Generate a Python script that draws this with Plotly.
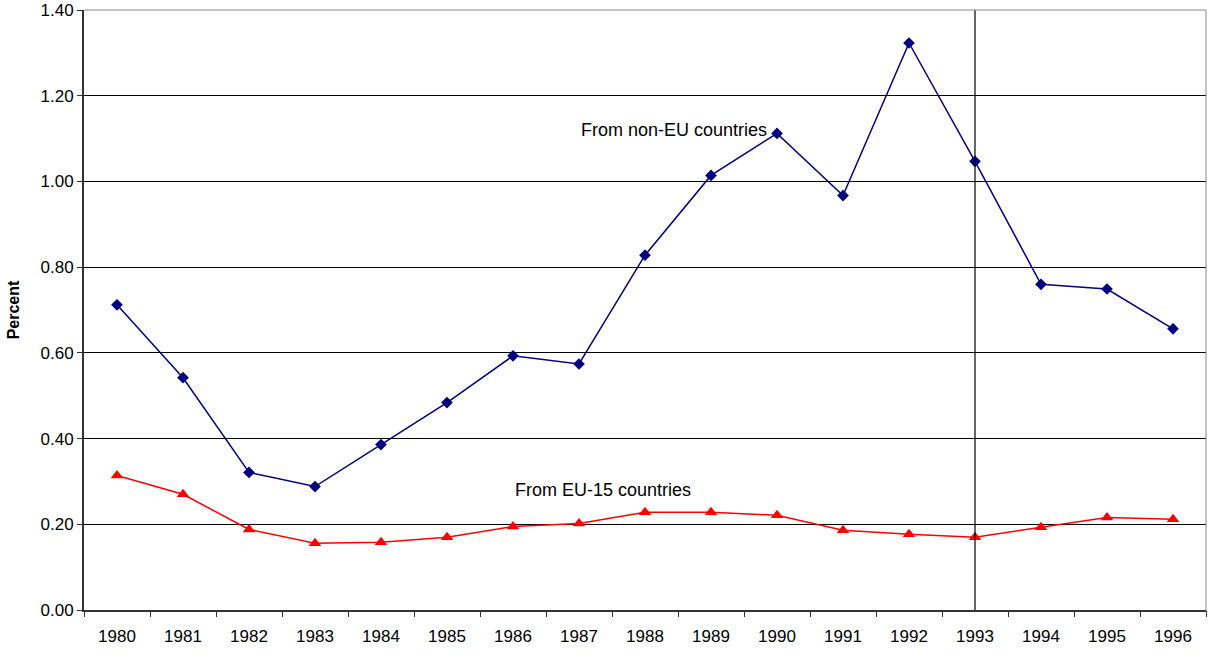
import plotly.graph_objects as go

years = [str(y) for y in range(1980, 1997)]
non_eu = [0.712, 0.542, 0.321, 0.288, 0.386, 0.484, 0.593, 0.574, 0.828, 1.014,
          1.112, 0.967, 1.323, 1.047, 0.760, 0.749, 0.656]
eu15 = [0.314, 0.270, 0.188, 0.156, 0.158, 0.170, 0.195, 0.202, 0.228, 0.228,
        0.221, 0.186, 0.177, 0.170, 0.193, 0.216, 0.212]
y_ticks = [0.0, 0.2, 0.4, 0.6, 0.8, 1.0, 1.2, 1.4]
y_labels = ["%.2f" % v for v in y_ticks]
marker_year = "1993"
xi = list(range(len(years)))

FONT = "Arial"

fig = go.Figure()
fig.add_trace(go.Scatter(
    x=xi, y=non_eu, mode="lines+markers", name="From non-EU countries",
    line=dict(color="#000080", width=1.5),
    marker=dict(symbol="diamond", size=9, color="#000080"),
))
fig.add_trace(go.Scatter(
    x=xi, y=eu15, mode="lines+markers", name="From EU-15 countries",
    line=dict(color="#FF0000", width=1.5),
    marker=dict(symbol="triangle-up", size=11, color="#FF0000"),
))

vx = years.index(marker_year)
fig.add_shape(type="line", xref="x", yref="y", x0=vx, x1=vx,
              y0=0, y1=1.4, line=dict(color="#000000", width=1.2))
fig.add_shape(type="line", xref="paper", yref="paper", x0=0, x1=1, y0=1, y1=1,
              line=dict(color="#888888", width=1))
fig.add_shape(type="line", xref="paper", yref="paper", x0=1, x1=1, y0=0, y1=1,
              line=dict(color="#888888", width=1))

fig.add_annotation(x=7, y=1.119, text="From non-EU countries", showarrow=False,
                   xanchor="left", yanchor="middle",
                   font=dict(size=18, color="#000000", family=FONT))
fig.add_annotation(x=6, y=0.281, text="From EU-15 countries", showarrow=False,
                   xanchor="left", yanchor="middle",
                   font=dict(size=18, color="#000000", family=FONT))

fig.update_layout(
    width=1210, height=655,
    margin=dict(l=84, r=4, t=10, b=45),
    paper_bgcolor="white", plot_bgcolor="white",
    showlegend=False,
    font=dict(family=FONT, size=17, color="#000000"),
    xaxis=dict(range=[-0.5, 16.5], tickvals=xi, ticktext=years,
               ticks="", showline=True, linecolor="#333333", linewidth=2,
               showgrid=False, zeroline=False, ticklabelstandoff=10,
               tickfont=dict(size=17, family=FONT)),
    yaxis=dict(range=[0, 1.40001], tickvals=y_ticks, ticktext=y_labels,
               ticks="outside", ticklen=5, tickcolor="#333333",
               showline=True, linecolor="#333333", linewidth=2,
               showgrid=True, gridcolor="#000000", gridwidth=1,
               zeroline=False, automargin=False, tickfont=dict(size=17, family=FONT),
               title=dict(text="<b>Percent</b>", font=dict(size=16, family=FONT), standoff=17)),
)

# tick marks at category boundaries via an overlaid x axis
bounds = [i - 0.5 for i in range(len(years) + 1)]
fig.update_layout(xaxis2=dict(overlaying="x", matches="x", side="bottom",
                              tickvals=bounds, ticktext=[""] * len(bounds),
                              ticks="outside", ticklen=6, tickcolor="#333333",
                              showgrid=False, zeroline=False, showline=False))
fig.add_trace(go.Scatter(x=[bounds[0]], y=[0], xaxis="x2", mode="markers",
                         marker=dict(opacity=0), hoverinfo="skip", showlegend=False))

fig.write_html("out.html")
